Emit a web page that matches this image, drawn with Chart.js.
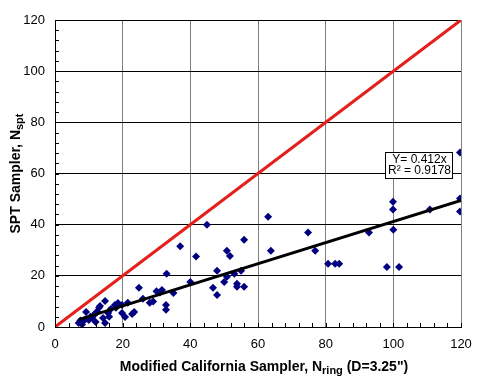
<!DOCTYPE html>
<html>
<head>
<style>
  body { margin: 0; background: #fff; }
  #wrap { width: 487px; height: 387px; }
</style>
<script src="https://cdn.jsdelivr.net/npm/chart.js@4"></script>
</head>
<body>
<div id="wrap"><canvas id="c" width="487" height="387"></canvas></div>
<script>
  // Modified California (N_ring) vs SPT (N_spt) blow counts
  const ringN = [7, 8, 8, 9, 10, 11, 11.5, 12, 13, 13.3, 14.2, 14.8, 14.8, 15.7, 16, 17.7, 18.6, 19.8, 19.8, 20.7,
    22.8, 23.4, 24.8, 28, 29, 30, 31, 31.6, 32.8, 32.8, 33, 35, 37, 40, 41.7, 44.9, 46.7, 47.9, 47.9, 50,
    50.8, 50.8, 51.7, 53, 53.8, 53.8, 55, 55.9, 55.9, 63, 63.8, 74.8, 76.9, 80.7, 82.8, 84, 92.8, 98.1, 99.9, 99.9,
    100, 101.7, 110.8, 119.7, 119.7, 119.7, 9.2, 12.5, 26, 7.5, 10.5, 12, 16.5, 18, 21.5];
  const sptN = [1.6, 2, 1, 3, 2.7, 3.5, 4.7, 2, 7.5, 8.2, 3.5, 10.2, 1.6, 5.5, 4, 8.6, 9.4, 8.6, 5.5, 3.9,
    5.1, 5.9, 15.3, 9.5, 10, 14, 13.5, 14.5, 8.6, 6.7, 20.8, 13.3, 31.6, 17.6, 27.6, 40, 15.3, 22, 12.5, 17.6,
    19.6, 29.8, 27.8, 20.8, 16.9, 15.7, 22, 34.1, 15.7, 43.1, 29.8, 36.9, 29.8, 24.7, 24.7, 24.7, 36.9, 23.5, 49, 45.9,
    38, 23.5, 45.9, 68.2, 50.2, 45.1, 5.9, 6, 11, 2.5, 4, 5.5, 7, 7.5, 9.5];
  const fitSlope = 0.412;
  const fitR2 = 0.9178;
  const fitRange = [7, 120];
  const oneToOne = [0, 120];
  const tickValues = [0, 20, 40, 60, 80, 100, 120];

  const scatterPts = ringN.map((x, i) => ({ x: x, y: sptN[i] }));
  const fitPts = fitRange.map(x => ({ x: x, y: fitSlope * x }));
  const linePts = oneToOne.map(x => ({ x: x, y: x }));

  const FONT = '"Liberation Sans", Arial, sans-serif';

  function drawSubText(ctx, parts, cx, cy, size) {
    // parts: [text, isSub]
    let total = 0;
    const widths = parts.map(p => {
      ctx.font = 'bold ' + (p[1] ? size - 3 : size) + 'px ' + FONT;
      const w = ctx.measureText(p[0]).width;
      total += w;
      return w;
    });
    let x = cx - total / 2;
    parts.forEach((p, i) => {
      ctx.font = 'bold ' + (p[1] ? size - 3 : size) + 'px ' + FONT;
      ctx.fillText(p[0], x, p[1] ? cy + 4 : cy);
      x += widths[i];
    });
  }

  const extras = {
    id: 'extras',
    afterDraw(chart) {
      const ctx = chart.ctx;
      const xs = chart.scales.x, ys = chart.scales.y;
      const a = chart.chartArea;
      ctx.save();
      // minor ticks, inside the plot
      ctx.strokeStyle = '#000';
      ctx.lineWidth = 1;
      for (let v = 0; v <= 120; v += 4) {
        const px = Math.round(xs.getPixelForValue(v)) + 0.5;
        ctx.beginPath(); ctx.moveTo(px, a.bottom); ctx.lineTo(px, a.bottom - 4); ctx.stroke();
        const py = Math.round(ys.getPixelForValue(v)) + 0.5;
        ctx.beginPath(); ctx.moveTo(a.left, py); ctx.lineTo(a.left + 4, py); ctx.stroke();
      }
      // axis titles with subscripts
      ctx.fillStyle = '#000';
      ctx.textBaseline = 'middle';
      ctx.textAlign = 'left';
      drawSubText(ctx, [['Modified California Sampler, N', false], ['ring', true], [' (D=3.25")', false]],
        (a.left + a.right) / 2 + 6, 367, 14);
      ctx.save();
      ctx.translate(16, (a.top + a.bottom) / 2);
      ctx.rotate(-Math.PI / 2);
      drawSubText(ctx, [['SPT Sampler, N', false], ['spt', true]], 0, 0, 14);
      ctx.restore();
      // trendline label
      const bx = 385, by = 152, bw = 67, bh = 26;
      ctx.fillStyle = '#fff';
      ctx.fillRect(bx, by, bw, bh);
      ctx.strokeStyle = '#000';
      ctx.strokeRect(bx + 0.5, by + 0.5, bw, bh);
      ctx.fillStyle = '#000';
      ctx.font = '12px ' + FONT;
      ctx.textAlign = 'center';
      ctx.fillText('Y= ' + fitSlope + 'x', bx + bw / 2 + 1, by + 8);
      ctx.fillText('R\u00b2 = ' + fitR2, bx + bw / 2 + 1, by + 19);
      ctx.restore();
    }
  };

  new Chart(document.getElementById('c'), {
    type: 'scatter',
    data: {
      datasets: [
        {
          data: linePts,
          showLine: true,
          borderColor: '#e3201c',
          borderWidth: 3,
          pointRadius: 0,
          order: 3
        },
        {
          data: scatterPts,
          backgroundColor: '#000080',
          borderColor: '#000080',
          pointStyle: 'rectRot',
          pointRadius: 4,
          borderWidth: 0,
          order: 2
        },
        {
          data: fitPts,
          showLine: true,
          borderColor: '#000',
          borderWidth: 3,
          pointRadius: 0,
          order: 1
        }
      ]
    },
    options: {
      responsive: false,
      animation: false,
      layout: { padding: { left: 0, right: 26, top: 20, bottom: 0 } },
      plugins: { legend: { display: false }, tooltip: { enabled: false } },
      scales: {
        x: {
          type: 'linear',
          min: 0, max: 120,
          afterBuildTicks: s => { s.ticks = tickValues.map(v => ({ value: v })); },
          afterFit: s => { s.height = 60; },
          ticks: { color: '#000', font: { family: FONT, size: 13 }, padding: 10, maxRotation: 0 },
          grid: { color: '#808080', drawTicks: false, lineWidth: 1 },
          border: { color: '#000', width: 1 }
        },
        y: {
          type: 'linear',
          min: 0, max: 120,
          afterBuildTicks: s => { s.ticks = tickValues.map(v => ({ value: v })); },
          afterFit: s => { s.width = 55; },
          ticks: { color: '#000', font: { family: FONT, size: 13 }, padding: 10 },
          grid: { color: '#000', drawTicks: false, lineWidth: 1 },
          border: { color: '#000', width: 1 }
        }
      }
    },
    plugins: [extras]
  });
</script>
</body>
</html>
